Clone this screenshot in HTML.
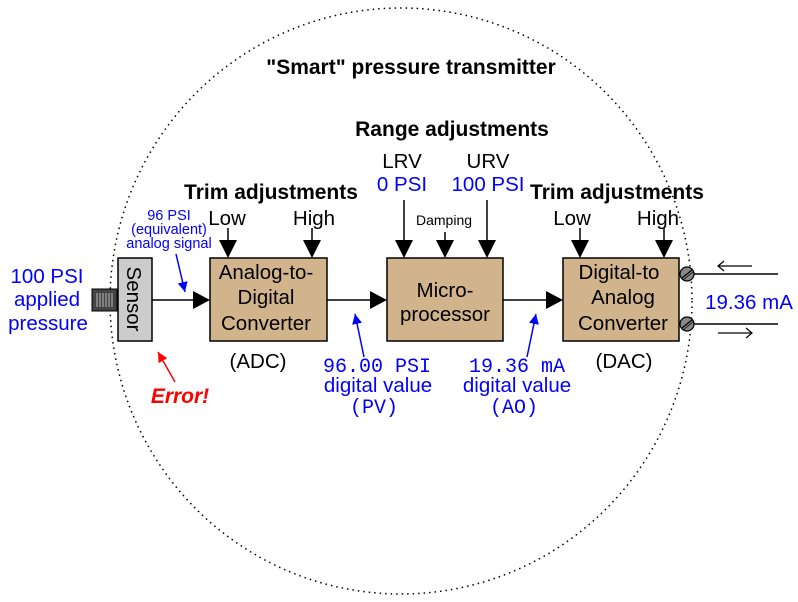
<!DOCTYPE html>
<html><head><meta charset="utf-8"><style>
html,body{margin:0;padding:0;background:#fff}
svg{display:block}
text{font-family:"Liberation Sans",sans-serif}
.m{font-family:"Liberation Mono",monospace}
</style></head><body>
<svg width="798" height="602" viewBox="0 0 798 602" xmlns="http://www.w3.org/2000/svg">
<defs>
<marker id="ah" markerWidth="10" markerHeight="10" refX="10" refY="5" orient="auto" markerUnits="userSpaceOnUse"><path d="M0,0 L10,5 L0,10 z" fill="#00f"/></marker>
<marker id="ar" markerWidth="10" markerHeight="10" refX="10" refY="5" orient="auto" markerUnits="userSpaceOnUse"><path d="M0,0 L10,5 L0,10 z" fill="#f00"/></marker>
</defs>
<ellipse cx="401" cy="301" rx="291" ry="293" fill="none" stroke="#000" stroke-width="1.5" stroke-dasharray="1.5,4"/>
<g font-weight="bold" font-size="21" text-anchor="middle" fill="#000">
<text x="411" y="74">"Smart" pressure transmitter</text>
<text x="452" y="136">Range adjustments</text>
<text x="271" y="199">Trim adjustments</text>
<text x="617" y="199">Trim adjustments</text>
</g>
<g font-size="20.5" text-anchor="middle" fill="#000">
<text x="402" y="168">LRV</text>
<text x="488" y="168">URV</text>
<text x="227" y="225">Low</text>
<text x="314" y="225">High</text>
<text x="572" y="225">Low</text>
<text x="658" y="225">High</text>
<text x="258" y="368">(ADC)</text>
<text x="624" y="368">(DAC)</text>
</g>
<text x="444" y="225" font-size="14" text-anchor="middle">Damping</text>
<g font-size="20.5" text-anchor="middle" fill="#00f">
<text x="402" y="191">0 PSI</text>
<text x="488" y="191">100 PSI</text>
<text x="47" y="283">100 PSI</text>
<text x="47" y="306">applied</text>
<text x="48" y="330">pressure</text>
<text x="749" y="309">19.36 mA</text>
<text x="378" y="392">digital value</text>
<text x="517" y="392">digital value</text>
</g>
<g font-size="14.5" text-anchor="middle" fill="#00f">
<text x="377" y="372" class="m" font-size="20">96.00 PSI</text>
<text x="517" y="372" class="m" font-size="20">19.36 mA</text>
<text x="374" y="413" class="m" font-size="20">(PV)</text>
<text x="514" y="413" class="m" font-size="20">(AO)</text>
<text x="169" y="220">96 PSI</text>
<text x="169" y="234">(equivalent)</text>
<text x="169" y="248">analog signal</text>
</g>
<text x="180" y="403" font-size="21" font-weight="bold" font-style="italic" fill="#f00" text-anchor="middle">Error!</text>
<!-- sensor -->
<rect x="92" y="289" width="25" height="22" fill="#444" stroke="#000"/>
<g stroke="#bbb" stroke-width="1"><line x1="97" y1="293" x2="97" y2="307"/><line x1="100" y1="293" x2="100" y2="307"/><line x1="103" y1="293" x2="103" y2="307"/><line x1="106" y1="293" x2="106" y2="307"/><line x1="109" y1="293" x2="109" y2="307"/><line x1="112" y1="293" x2="112" y2="307"/></g>
<rect x="118" y="258" width="34" height="83" fill="#ccc" stroke="#000" stroke-width="1.5"/>
<text x="0" y="0" font-size="20.5" transform="translate(127,299) rotate(90)" text-anchor="middle">Sensor</text>
<!-- boxes -->
<g fill="#d2b48c" stroke="#000" stroke-width="1.5">
<rect x="210" y="258" width="117" height="83"/>
<rect x="387" y="258" width="116" height="83"/>
<rect x="563" y="258" width="116" height="83"/>
</g>
<g font-size="20.5" text-anchor="middle">
<text x="266" y="279">Analog-to-</text>
<text x="266" y="304">Digital</text>
<text x="266" y="330">Converter</text>
<text x="445" y="297">Micro-</text>
<text x="445" y="321">processor</text>
<text x="619" y="279">Digital-to</text>
<text x="623" y="304">Analog</text>
<text x="623" y="330">Converter</text>
</g>
<!-- flow lines -->
<g stroke="#000" stroke-width="1.5">
<line x1="152" y1="300" x2="195" y2="300"/>
<line x1="327" y1="300" x2="372" y2="300"/>
<line x1="503" y1="300" x2="548" y2="300"/>
<line x1="228" y1="228" x2="228" y2="242"/>
<line x1="312" y1="228" x2="312" y2="242"/>
<line x1="404" y1="200" x2="404" y2="242"/>
<line x1="445" y1="232" x2="445" y2="242"/>
<line x1="487" y1="200" x2="487" y2="242"/>
<line x1="580" y1="228" x2="580" y2="242"/>
<line x1="664" y1="228" x2="664" y2="242"/>
<line x1="688" y1="274" x2="778" y2="274"/>
<line x1="688" y1="324" x2="778" y2="324"/>
</g>
<g fill="#000">
<path d="M193,291 L210,300 L193,309z"/>
<path d="M370,291 L387,300 L370,309z"/>
<path d="M546,291 L563,300 L546,309z"/>
<path d="M219,240 L237,240 L228,258z"/>
<path d="M303,240 L321,240 L312,258z"/>
<path d="M395,240 L413,240 L404,258z"/>
<path d="M436,240 L454,240 L445,258z"/>
<path d="M478,240 L496,240 L487,258z"/>
<path d="M571,240 L589,240 L580,258z"/>
<path d="M655,240 L673,240 L664,258z"/>
</g>
<!-- terminals -->
<g stroke="#000" stroke-width="1.2" fill="#888">
<circle cx="687" cy="274" r="7"/><line x1="682" y1="278" x2="692" y2="270"/><line x1="683" y1="280" x2="693" y2="272" stroke-width="0.8"/>
<circle cx="687" cy="324" r="7"/><line x1="682" y1="328" x2="692" y2="320"/><line x1="683" y1="330" x2="693" y2="322" stroke-width="0.8"/>
</g>
<g stroke="#000" stroke-width="1.2" fill="none">
<line x1="718" y1="266" x2="752" y2="266"/><path d="M724,261 L718,266 L724,271"/>
<line x1="718" y1="333" x2="752" y2="333"/><path d="M746,328 L752,333 L746,338"/>
</g>
<!-- callouts -->
<g stroke="#00f" stroke-width="1.5">
<line x1="176" y1="254" x2="185" y2="292" marker-end="url(#ah)"/>
<line x1="364" y1="357" x2="355" y2="314" marker-end="url(#ah)"/>
<line x1="527" y1="357" x2="536" y2="314" marker-end="url(#ah)"/>
</g>
<line x1="175" y1="382" x2="158" y2="352" stroke="#f00" stroke-width="1.5" marker-end="url(#ar)"/>
</svg>
</body></html>
